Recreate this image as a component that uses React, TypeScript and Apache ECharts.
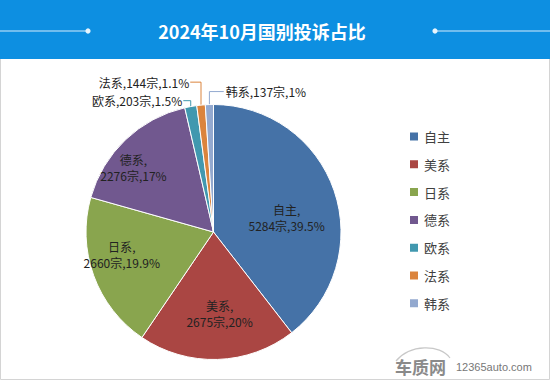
import React, { useEffect, useRef } from "react";
import * as echarts from "echarts";

const TITLE = "2024年10月国别投诉占比";
const categories = ["自主", "美系", "日系", "德系", "欧系", "法系", "韩系"];
const counts = [5284, 2675, 2660, 2276, 203, 144, 137];
const percents = ["39.5%", "20%", "19.9%", "17%", "1.5%", "1.1%", "1%"];
const colors = ["#4572A7", "#AA4643", "#89A54E", "#71588F", "#4198AF", "#DB843D", "#93A9CF"];
const insideLabel = [true, true, true, true, false, false, false];
// label nudges (dx, dy) to mimic the spreadsheet's label placement
const labelShift: [number, number][] = [
  [10, 7],
  [4, 15],
  [-29, 0],
  [-34, -16],
  [4, 2],
  [0, -15],
  [108, -5],
];
// which side of the label the leader line attaches to (outside labels only)
const lineSide = ["", "", "", "", "right", "right", "left"];

const FONT = "'Noto Sans CJK SC', 'Microsoft YaHei', sans-serif";

export default function App() {
  const ref = useRef<HTMLDivElement>(null);
  useEffect(() => {
    if (!ref.current) return;
    const chart = echarts.init(ref.current, null, { renderer: "svg" });
    const data = categories.map((name, i) => ({
      name,
      value: counts[i],
      itemStyle: { color: colors[i] },
      label: insideLabel[i]
        ? { position: "inside" as const }
        : { position: "outside" as const },
      labelLine: { show: !insideLabel[i] },
    }));
    chart.setOption({
      animation: false,
      backgroundColor: "#ffffff",
      textStyle: { fontFamily: FONT },
      legend: {
        orient: "vertical",
        left: 403,
        top: 125,
        icon: "rect",
        itemWidth: 10,
        itemHeight: 10,
        itemGap: 14.8,
        data: categories,
        textStyle: { fontSize: 13, color: "#404040", fontFamily: FONT },
      },
      graphic: [
        {
          type: "rect",
          shape: { x: 0.5, y: 58.5, width: 549, height: 321 },
          style: { fill: "none", stroke: "#d4d4d4", lineWidth: 1 },
          z: 0,
        },
        {
          type: "rect",
          shape: { x: 0, y: 0, width: 550, height: 59 },
          style: { fill: "#0d8fe1" },
          z: 1,
        },
        {
          type: "line",
          shape: { x1: 0, y1: 31, x2: 88, y2: 31 },
          style: { stroke: "#d6ecfb", lineWidth: 1.2 },
          z: 2,
        },
        { type: "circle", shape: { cx: 88, cy: 31, r: 2.6 }, style: { fill: "#e8f5fd" }, z: 2 },
        {
          type: "line",
          shape: { x1: 435, y1: 31, x2: 550, y2: 31 },
          style: { stroke: "#d6ecfb", lineWidth: 1.2 },
          z: 2,
        },
        { type: "circle", shape: { cx: 435, cy: 31, r: 2.6 }, style: { fill: "#e8f5fd" }, z: 2 },
        {
          type: "text",
          x: 262,
          y: 31,
          style: {
            text: TITLE,
            fill: "#ffffff",
            font: `bold 18px ${FONT}`,
            textAlign: "center",
            textVerticalAlign: "middle",
          },
          z: 3,
        },
        {
          type: "bezierCurve",
          shape: { x1: 396, y1: 361, x2: 450, y2: 358, cpx1: 410, cpy1: 344, cpx2: 440, cpy2: 344 },
          style: { stroke: "#c8c8c8", lineWidth: 1.2, fill: "none" },
          z: 2,
        },
        {
          type: "text",
          x: 395,
          y: 366,
          style: {
            text: "车质网",
            fill: "#8a8a8a",
            font: `bold 17px ${FONT}`,
            textVerticalAlign: "middle",
          },
          z: 3,
        },
        {
          type: "text",
          x: 456,
          y: 367,
          style: {
            text: "12365auto.com",
            fill: "#777777",
            font: `11px Arial, 'Liberation Sans', sans-serif`,
            textVerticalAlign: "middle",
          },
          z: 3,
        },
      ],
      series: [
        {
          type: "pie",
          center: [213.5, 232],
          radius: 127.5,
          startAngle: 90,
          clockwise: true,
          avoidLabelOverlap: false,
          itemStyle: { borderColor: "#ffffff", borderWidth: 1 },
          label: {
            fontSize: 12,
            lineHeight: 16,
            color: "#222222",
            fontFamily: FONT,
            formatter: (p: any) => {
              const i = p.dataIndex;
              return insideLabel[i]
                ? `${p.name},\n${p.value}宗,${percents[i]}`
                : `${p.name},${p.value}宗,${percents[i]}`;
            },
          },
          labelLine: {
            length: 8,
            length2: 6,
            lineStyle: { width: 1 },
          },
          labelLayout: (p: any) => {
            const i = p.dataIndex;
            const s = labelShift[i];
            const out: any = { dx: s[0], dy: s[1] };
            if (!insideLabel[i] && p.labelLinePoints && p.labelRect) {
              const p0 = p.labelLinePoints[0];
              const r = p.labelRect;
              const ly = r.y + r.height / 2 + s[1];
              const ex = lineSide[i] === "right" ? r.x + r.width + s[0] + 1 : r.x + s[0] - 2;
              out.labelLinePoints = [
                [p0[0], p0[1]],
                [p0[0], ly],
                [ex, ly],
              ];
            }
            return out;
          },
          emphasis: { disabled: true },
          data,
        },
      ],
    });
    return () => chart.dispose();
  }, []);
  return (
    <div
      ref={ref}
      style={{ position: "fixed", left: 0, top: 0, width: 550, height: 380 }}
    />
  );
}
